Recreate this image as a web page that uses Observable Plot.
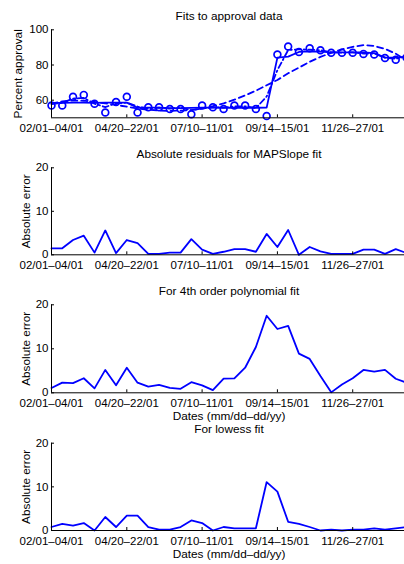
<!DOCTYPE html>
<html><head><meta charset="utf-8">
<script src="https://cdn.jsdelivr.net/npm/d3@7"></script>
<script src="https://cdn.jsdelivr.net/npm/@observablehq/plot@0.6"></script>
<style>
html,body{margin:0;padding:0;background:#fff;overflow:hidden;}
#c{position:relative;width:404px;height:564px;overflow:hidden;background:#fff;font-family:"Liberation Sans",Arial,sans-serif;}
#c svg{position:absolute;left:0;}
</style></head><body><div id="c"></div>
<script>
// Poll index 0..33 (x positions are the poll order)
const approval = [57,57,62,63,58,53,59,62,53,56,56,55,55,52,57,56,55,57,57,55,51,86,90.5,87.4,89.5,88.4,87,87,87,86.3,86,84,83,84.2];
const mapslopeFit = [58.5,58.5,58.6,58.6,58.5,58.6,58.6,58.6,55.7,55.8,55.8,55.5,55.5,55.6,55.8,55.8,55.7,55.7,55.7,55.7,55.8,84.2,84.8,87.4,87.7,87.6,87.2,87.2,87.2,87.1,86.8,84.2,84.2,84.6];
const polyFit = [58.1,59.3,59.8,59.7,59.0,58.2,57.3,56.3,55.3,54.6,54.2,53.9,54.1,54.4,55.3,56.6,58.2,60.3,62.7,65.4,68.5,71.5,75.3,78.5,81.8,84.6,86.9,88.9,90.3,91.3,90.8,89.2,86.4,82.6];
const lowessFit = [57.8,58.5,60.9,61.3,58.0,56.1,58.2,58.6,56.4,55.2,55.8,55.2,55.8,54.3,55.3,56.0,55.8,56.5,56.5,55.5,62.1,77.1,88.5,88.9,88.7,88.4,87.2,87.0,87.2,86.5,86.5,84.2,83.5,85.0];
const residMAPSlope = [1.5,1.5,3.4,4.4,0.5,5.6,0.4,3.4,2.7,0.2,0.2,0.5,0.5,3.6,1.2,0.2,0.7,1.3,1.3,0.7,4.8,1.8,5.7,0,1.8,0.8,0.2,0.2,0.2,1.2,1.2,0.2,1.3,0.4];
const residPoly = [1.1,2.3,2.2,3.3,1.0,5.2,1.7,5.7,2.3,1.4,1.8,1.1,0.9,2.4,1.7,0.6,3.2,3.3,5.7,10.4,17.5,14.5,15.2,8.9,7.7,3.8,0.1,1.9,3.3,5.2,4.8,5.2,3.2,2.3];
const residLowess = [0.8,1.5,1.1,1.7,0,3.1,0.8,3.4,3.4,0.8,0.2,0.2,0.8,2.3,1.7,0,0.8,0.5,0.5,0.5,11.1,8.9,2.0,1.5,0.8,0,0.2,0,0.2,0.2,0.5,0.2,0.5,0.8];
const tickIdx = [0,7,14,21,28];
const tickLabels = ["02/01\u201304/01","04/20\u201322/01","07/10\u201311/01","09/14\u201315/01","11/26\u201327/01"];
const titles = ["Fits to approval data","Absolute residuals for MAPSlope fit","For 4th order polynomial fit","For lowess fit"];
const yLabels = ["Percent approval","Absolute error"];
const xLabel = "Dates (mm/dd\u2013dd/yy)";

const FONT = "'Liberation Sans', Arial, Helvetica, sans-serif";
const X = (d, i) => i;
const Y = d => d;

function panel({top, height, mt, mb, ydomain, yticks, title, titleDy, ylabel, ylabelDx, xlabel, marks}) {
  const extra = [];
  extra.push(Plot.text([title], {text: d => d, frameAnchor: "top", lineAnchor: "middle", dy: titleDy, fontSize: 11.8, fill: "black"}));
  extra.push(Plot.text([ylabel], {text: d => d, frameAnchor: "left", lineAnchor: "middle", rotate: -90, dx: ylabelDx, fontSize: 11.8, fill: "black", textAnchor: "middle"}));
  if (xlabel) extra.push(Plot.text([xlabel], {text: d => d, frameAnchor: "bottom", lineAnchor: "middle", dy: 23.4, fontSize: 11.8, fill: "black"}));
  const p = Plot.plot({
    width: 406, height,
    marginLeft: 51, marginRight: 0, marginTop: mt, marginBottom: mb,
    style: {background: "transparent", overflow: "visible", maxWidth: "none", fontFamily: FONT, fontSize: "11.5px", color: "black"},
    x: {domain: [0, 33]},
    y: {domain: ydomain},
    marks: [
      ...marks,
      Plot.ruleX([0], {stroke: "black", strokeWidth: 1}),
      Plot.ruleY([ydomain[0]], {stroke: "black", strokeWidth: 1}),
      Plot.axisX({ticks: tickIdx, tickFormat: v => tickLabels[tickIdx.indexOf(v)], tickSize: -3, tickPadding: 9, label: null, stroke: "black", fill: "black"}),
      Plot.axisY({ticks: yticks, tickSize: -3, tickPadding: 6, label: null, stroke: "black", fill: "black"}),
      ...extra
    ]
  });
  p.style.top = top + "px";
  document.getElementById("c").append(p);
}

const blue = "#0000ff";

panel({top: 0, height: 140, mt: 29.3, mb: 22.7, ydomain: [50, 100], yticks: [60, 80, 100],
  title: titles[0], titleDy: -14, ylabel: yLabels[0], ylabelDx: -33, marks: [
    Plot.line(lowessFit, {x: X, y: Y, stroke: blue, strokeWidth: 1.8, strokeDasharray: "6,3,1.5,3"}),
    Plot.line(polyFit, {x: X, y: Y, stroke: blue, strokeWidth: 1.8, strokeDasharray: "6,4"}),
    Plot.line(mapslopeFit, {x: X, y: Y, stroke: blue, strokeWidth: 1.8}),
    Plot.dot(approval, {x: X, y: Y, r: 3.4, stroke: blue, strokeWidth: 1.7, fill: "none"})
  ]});

panel({top: 140, height: 138, mt: 27.3, mb: 23.7, ydomain: [0, 20], yticks: [0, 10, 20],
  title: titles[1], titleDy: -13.3, ylabel: yLabels[1], ylabelDx: -24.8, marks: [
    Plot.line(residMAPSlope, {x: X, y: Y, stroke: blue, strokeWidth: 1.8})
  ]});

panel({top: 278, height: 144, mt: 26.3, mb: 29.7, ydomain: [0, 20], yticks: [0, 10, 20],
  title: titles[2], titleDy: -13.3, ylabel: yLabels[1], ylabelDx: -24.8, xlabel: xLabel, marks: [
    Plot.line(residPoly, {x: X, y: Y, stroke: blue, strokeWidth: 1.8})
  ]});

panel({top: 422, height: 142, mt: 20.7, mb: 34, ydomain: [0, 20], yticks: [0, 10, 20],
  title: titles[3], titleDy: -13.7, ylabel: yLabels[1], ylabelDx: -24.8, xlabel: xLabel, marks: [
    Plot.line(residLowess, {x: X, y: Y, stroke: blue, strokeWidth: 1.8})
  ]});
</script></body></html>
